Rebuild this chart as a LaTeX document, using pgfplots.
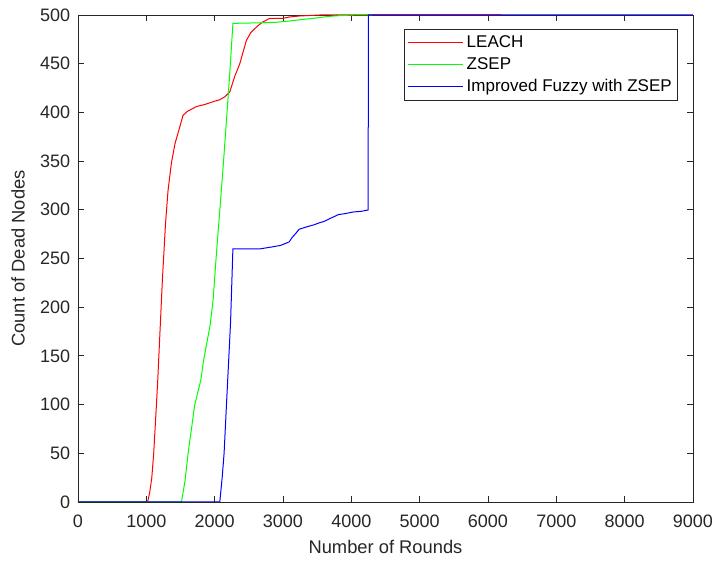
\documentclass[border=0pt]{standalone}
\usepackage{pgfplots}
\pgfplotsset{compat=1.18}
\usepackage{fontspec}
\setmainfont{Liberation Sans}
\definecolor{axgray}{RGB}{38,38,38}
\begin{document}
\begin{tikzpicture}
\useasboundingbox (-46.8pt,-35.4pt) rectangle (382.8pt,301.2pt);
\begin{axis}[
  at={(0,0)}, anchor=south west,
  scale only axis,
  width=369pt, height=292.2pt,
  xmin=0, xmax=9000, ymin=0, ymax=500,
  xtick={0,1000,...,9000},
  ytick={0,50,...,500},
  scaled x ticks=false,
  /pgf/number format/assume math mode=true,
  /pgf/number format/1000 sep={},
  tick align=inside,
  major tick length=3.6pt,
  axis line style={axgray, line width=0.5pt},
  every tick/.style={axgray, line width=0.5pt},
  tick label style={font=\fontsize{10.8}{13}\selectfont, text=axgray},
  xticklabel style={yshift=-4.4pt},
  yticklabel style={xshift=-1.2pt},
  label style={font=\fontsize{11}{13}\selectfont, text=axgray},
  xlabel={Number of Rounds},
  ylabel={Count of Dead Nodes},
  xlabel style={at={(axis description cs:0.5,-0.0924)}, anchor=center},
  ylabel style={at={(axis description cs:-0.0976,0.5)}, anchor=center},
  legend style={at={(rel axis cs:0.9756,0.971)}, anchor=north east,
    draw=axgray, line width=0.5pt, font=\fontsize{10.2}{12}\selectfont,
    inner sep=1.5pt, row sep=0.6pt,
    cells={anchor=west, text=black}},
  legend image code/.code={\draw[#1, line width=0.6pt] (0pt,0pt) -- (33pt,0pt);},
  every axis plot/.append style={line width=0.6pt},
]
% LEACH
\addplot[color={rgb,1:red,1;green,0;blue,0}] coordinates {
(0,0) (1019,0) (1050,10) (1080,25) (1108,50) (1148,100) (1167,125) (1200,175)
(1235,228) (1280,285) (1318,320) (1367,348) (1420,368) (1465,379) (1537,397)
(1600,401) (1733,406) (1850,408) (1977,411) (2075,413) (2148,416)
(2221,421) (2294,437) (2368,450) (2420,463) (2465,474) (2530,482) (2587,486)
(2650,490) (2709,493) (2807,496.6) (2997,496.6) (3100,498) (3246,499) (3539,500)
(6200,500)};
\addlegendentry{LEACH}
% ZSEP
\addplot[color={rgb,1:red,0;green,1;blue,0}] coordinates {
(0,0) (1514,0) (1567,22) (1611,50) (1660,75) (1709,100) (1797,125) (1835,144)
(1932,181) (1977,207) (2029,258) (2078,302) (2126,346) (2175,394) (2223,442)
(2267,491.4) (2675,492) (2900,492.5) (3114,494) (3300,495.5) (3451,496.6)
(3600,498) (3744,499) (4026,500) (4300,500)};
\addlegendentry{ZSEP}
% Improved Fuzzy with ZSEP
\addplot[color={rgb,1:red,0;green,0;blue,1}] coordinates {
(0,0) (2075,0) (2110,25) (2138,50) (2173,100) (2205,145) (2233,185) (2267,260)
(2675,260) (2850,262) (2968,263.5) (3090,267) (3138,272) (3190,276) (3236,280)
(3357,282.7) (3450,284.5) (3539,286.8) (3600,288) (3685,291) (3750,293)
(3807,295) (3900,296) (4026,297.7) (4150,298.5) (4246,299.8) (4250,500)
(9000,500)};
\addlegendentry{Improved Fuzzy with ZSEP}
\end{axis}
\end{tikzpicture}
\end{document}
